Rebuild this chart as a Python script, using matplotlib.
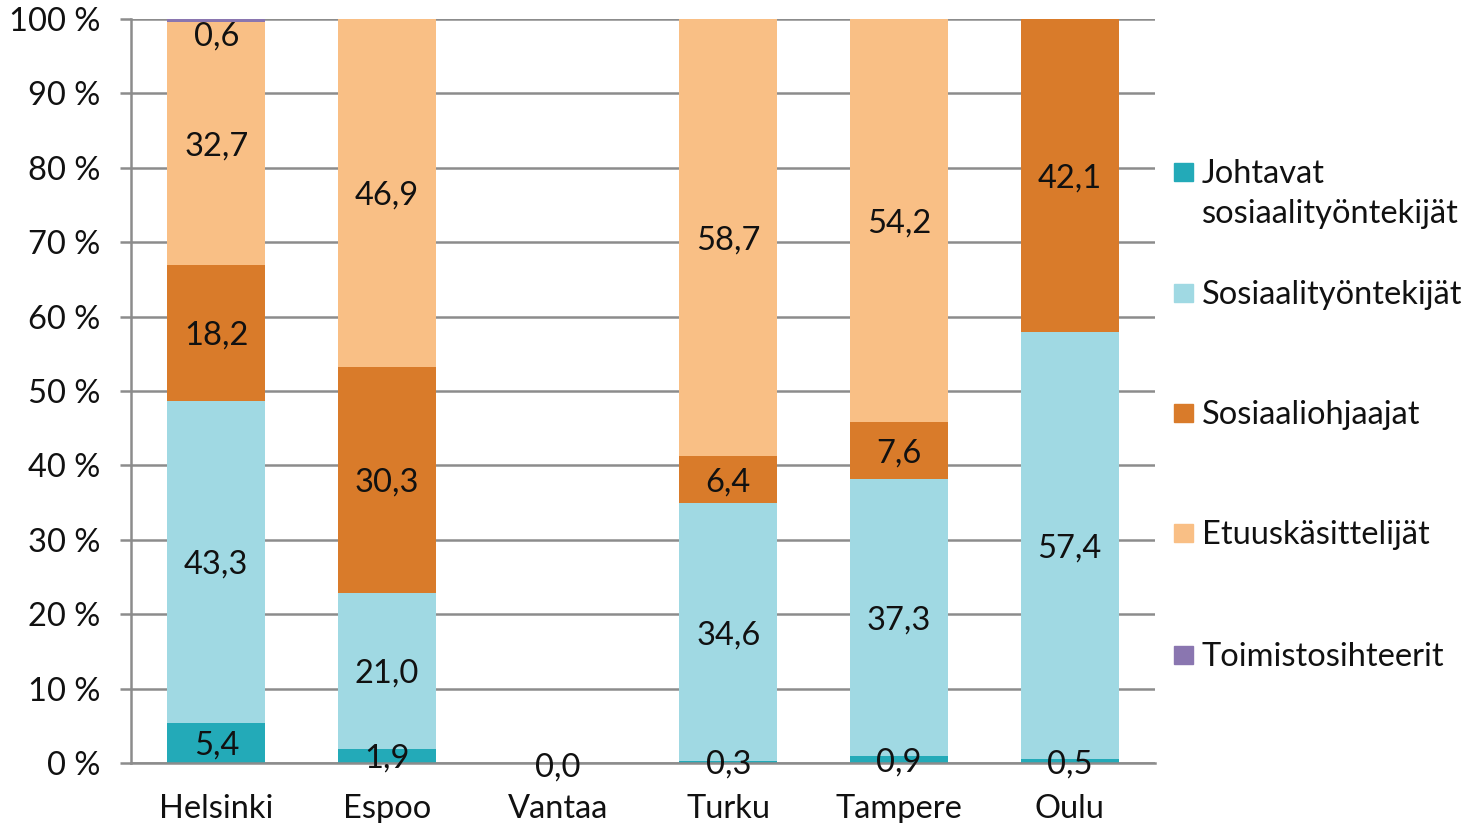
import matplotlib.pyplot as plt
from matplotlib.patches import Rectangle
from matplotlib.transforms import offset_copy

CITIES = ["Helsinki", "Espoo", "Vantaa", "Turku", "Tampere", "Oulu"]
SERIES = ["Johtavat\nsosiaalityöntekijät", "Sosiaalityöntekijät", "Sosiaaliohjaajat",
          "Etuuskäsittelijät", "Toimistosihteerit"]
COLORS = ["#23aab8", "#a0d9e3", "#d97b2a", "#f9bf85", "#8a76b0"]

JOHTAVAT = [5.4, 1.9, 0.0, 0.3, 0.9, 0.5]
SOSIAALITYO = [43.3, 21.0, 0.0, 34.6, 37.3, 57.4]
OHJAAJAT = [18.2, 30.3, 0.0, 6.4, 7.6, 42.1]
ETUUS = [32.7, 46.9, 0.0, 58.7, 54.2, 0.0]
SIHTEERIT = [0.6, 0.0, 0.0, 0.0, 0.0, 0.0]

YTICKS = list(range(0, 101, 10))
FONT = "Lato"
FS = 23.5


def fmt(v):
    return f"{v:.1f}".replace(".", ",")


def main():
    plt.rcParams["font.family"] = [FONT, "DejaVu Sans"]
    fig = plt.figure(figsize=(14.68, 8.23), dpi=100)
    ax = fig.add_axes([131 / 1468, 60 / 823, 1024 / 1468, 744 / 823])
    lbl_tr = offset_copy(ax.transData, fig=fig, x=0, y=-3, units="dots")

    data = [JOHTAVAT, SOSIAALITYO, OHJAAJAT, ETUUS, SIHTEERIT]
    x = list(range(len(CITIES)))
    bottoms = [0.0] * len(CITIES)
    for vals, col in zip(data, COLORS):
        ax.bar(x, vals, bottom=bottoms, width=0.575, color=col, zorder=3)
        for i, v in enumerate(vals):
            if v > 0:
                yc = min(bottoms[i] + v / 2, 98.1)
                ax.text(i, yc, fmt(v), ha="center", va="center", fontsize=FS,
                        color="#111111", zorder=5, transform=lbl_tr)
            bottoms[i] += v

    # Vantaa has no data, Excel still shows a zero label on the axis
    for i, tot in enumerate(bottoms):
        if tot == 0:
            ax.text(i, -0.2, fmt(0.0), ha="center", va="center", fontsize=FS,
                    color="#111111", zorder=5, transform=lbl_tr)

    ax.set_xlim(-0.5, len(CITIES) - 0.5)
    ax.set_ylim(0, 100)
    ax.set_yticks(YTICKS)
    ax.set_yticklabels([f"{t} %" for t in YTICKS], fontsize=FS, color="#111111")
    ax.set_xticks(x)
    ax.set_xticklabels(CITIES, fontsize=FS, color="#111111")
    ax.tick_params(axis="x", length=0, pad=22)
    ax.tick_params(axis="y", length=8, width=1.8, color="#8c8c8c", pad=14)
    ax.yaxis.grid(True, color="#8c8c8c", linewidth=1.8, zorder=1)
    ax.set_axisbelow(True)
    for s in ["top", "right"]:
        ax.spines[s].set_visible(False)
    ax.spines["left"].set_color("#8c8c8c")
    ax.spines["left"].set_linewidth(1.8)
    ax.spines["bottom"].set_color("#8c8c8c")
    ax.spines["bottom"].set_linewidth(1.8)
    ax.spines["bottom"].set_zorder(4)

    # legend drawn by hand, Excel style slots
    slot_y = [172, 293, 413, 533, 655]
    for name, col, yp in zip(SERIES, COLORS, slot_y):
        fig.patches.append(Rectangle((1174 / 1468, 1 - (yp + 9) / 823), 19 / 1468, 18 / 823,
                                     transform=fig.transFigure, color=col))
        for k, line in enumerate(name.split("\n")):
            fig.text(1202 / 1468, 1 - (yp + 11 + 40 * k) / 823, line, ha="left",
                     va="baseline", fontsize=FS, color="#111111")

    fig.savefig("out.png", dpi=100)
    plt.close(fig)


if __name__ == "__main__":
    main()
